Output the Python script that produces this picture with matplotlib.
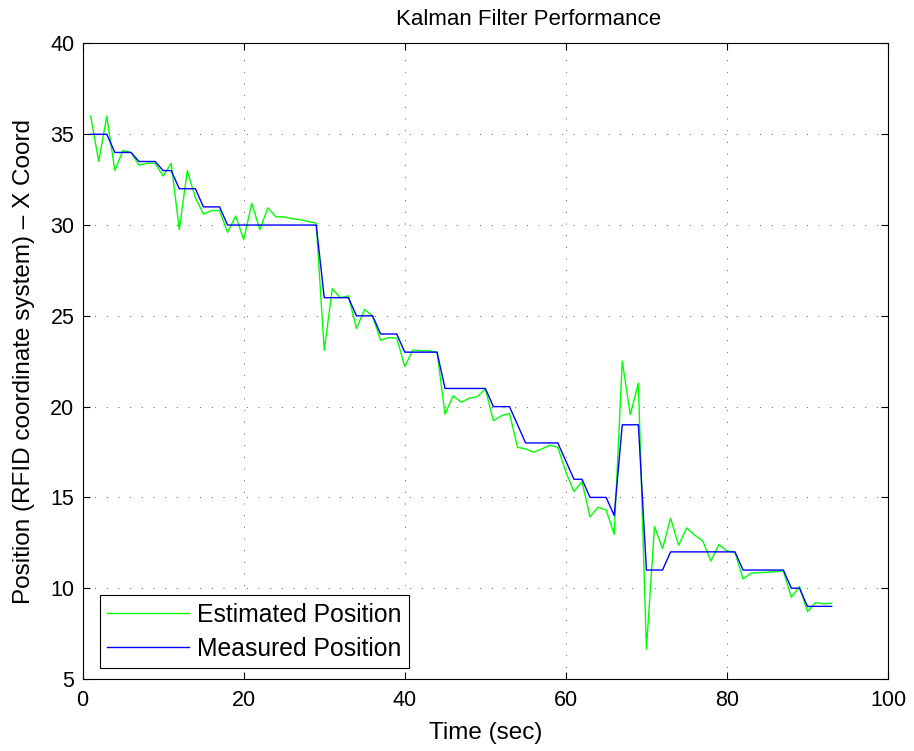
import matplotlib
matplotlib.use("Agg")
import matplotlib.pyplot as plt

# Time stamps (seconds) and position samples along the RFID X axis
time_sec = list(range(1, 94))

estimated_x = [
    36.0, 33.5, 36.0, 33.0, 34.1, 34.0, 33.3, 33.4, 33.4, 32.7,
    33.4, 29.75, 33.0, 31.5, 30.6, 30.8, 30.8, 29.6, 30.5, 29.2,
    31.2, 29.75, 30.95, 30.45, 30.45, 30.35, 30.3, 30.2, 30.1, 23.1,
    26.5, 26.0, 26.1, 24.3, 25.35, 25.0, 23.65, 23.8, 23.77, 22.2,
    23.12, 23.07, 23.07, 23.0, 19.58, 20.6, 20.24, 20.46, 20.55, 20.97,
    19.23, 19.5, 19.63, 17.76, 17.67, 17.49, 17.67, 17.87, 17.76, 16.4,
    15.32, 15.87, 13.93, 14.46, 14.3, 12.97, 22.5, 19.56, 21.29, 6.64,
    13.39, 12.18, 13.85, 12.37, 13.32, 12.92, 12.6, 11.5, 12.4, 12.05,
    11.98, 10.51, 10.83, 10.86, 10.88, 10.91, 10.95, 9.5, 10.09, 8.71,
    9.21, 9.14, 9.17,
]

measured_x = [
    35, 35, 35, 34, 34, 34, 33.5, 33.5, 33.5, 33,
    33, 32, 32, 32, 31, 31, 31, 30, 30, 30,
    30, 30, 30, 30, 30, 30, 30, 30, 30, 26,
    26, 26, 26, 25, 25, 25, 24, 24, 24, 23,
    23, 23, 23, 23, 21, 21, 21, 21, 21, 21,
    20, 20, 20, 19, 18, 18, 18, 18, 18, 17,
    16, 16, 15, 15, 15, 14, 19, 19, 19, 11,
    11, 11, 12, 12, 12, 12, 12, 12, 12, 12,
    12, 11, 11, 11, 11, 11, 11, 10, 10, 9,
    9, 9, 9,
]

x_ticks = [0, 20, 40, 60, 80, 100]
y_ticks = [5, 10, 15, 20, 25, 30, 35, 40]

plt.rcParams["font.family"] = ["Liberation Sans", "DejaVu Sans"]
plt.rcParams["font.size"] = 15.5

fig = plt.figure(figsize=(9.14, 7.51), dpi=100)
ax = fig.add_axes([0.0904, 0.0959, 0.8812, 0.8462])

ax.plot(time_sec, estimated_x, color=(0, 1, 0), linewidth=1.0,
        label="Estimated Position")
ax.plot(time_sec, measured_x, color=(0, 0, 1), linewidth=1.0,
        label="Measured Position")

ax.set_xlim(0, 100)
ax.set_ylim(5, 40)
ax.set_xticks(x_ticks)
ax.set_yticks(y_ticks)

ax.tick_params(direction="in", length=5, width=0.8, top=True, right=True,
               labelsize=15.5)
ax.tick_params(axis="x", pad=8)
ax.tick_params(axis="y", pad=6)
for spine in ax.spines.values():
    spine.set_linewidth(0.8)
    spine.set_color("black")

ax.grid(True, color="0.25", linewidth=0.6, linestyle=(0, (1.2, 12.8)))
ax.set_axisbelow(True)

ax.set_title("Kalman Filter Performance", fontsize=16, pad=13)
ax.title.set_x(0.554)
ax.set_xlabel("Time (sec)", fontsize=17.5, labelpad=8)
ax.set_ylabel("Position (RFID coordinate system) \u2013 X Coord",
              fontsize=17.5, labelpad=11)

leg = ax.legend(loc="lower left", bbox_to_anchor=(0.0215, 0.0173),
                borderaxespad=0, fancybox=False, edgecolor="black",
                framealpha=1, handlelength=3.3, handletextpad=0.33,
                borderpad=0.3, labelspacing=0.4, fontsize=17.8)
leg.get_frame().set_linewidth(0.8)

fig.savefig("out.png", dpi=100)
